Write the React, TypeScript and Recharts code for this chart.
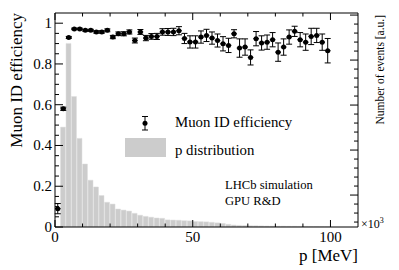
import React from 'react';
import { ComposedChart, Bar, Scatter, ErrorBar, XAxis, YAxis } from 'recharts';

const FONT = '"Liberation Serif", "DejaVu Serif", serif';

// muon ID efficiency per 2 MeV bin (bin centre in MeV)
const effP = [1, 3, 5, 7, 9, 11, 13, 15, 17, 19, 21, 23, 25, 27, 29, 31, 33, 35, 37, 39, 41, 43, 45, 47, 49,
  51, 53, 55, 57, 59, 61, 63, 65, 67, 69, 71, 73, 75, 77, 79, 81, 83, 85, 87, 89, 91, 93, 95, 97, 99];
const effValue = [0.09, 0.58, 0.93, 0.972, 0.972, 0.965, 0.965, 0.957, 0.957, 0.965, 0.932, 0.948, 0.948, 0.957,
  0.915, 0.957, 0.927, 0.935, 0.935, 0.957, 0.957, 0.957, 0.963, 0.925, 0.908, 0.908, 0.932, 0.94, 0.927, 0.915,
  0.899, 0.891, 0.948, 0.878, 0.883, 0.832, 0.924, 0.903, 0.907, 0.919, 0.858, 0.883, 0.932, 0.96, 0.919, 0.907,
  0.935, 0.94, 0.907, 0.865];
const effError = [0.025, 0.008, 0.005, 0.004, 0.004, 0.005, 0.005, 0.006, 0.006, 0.007, 0.008, 0.009, 0.01, 0.01,
  0.012, 0.012, 0.013, 0.014, 0.015, 0.016, 0.017, 0.018, 0.02, 0.025, 0.03, 0.03, 0.03, 0.03, 0.03, 0.032,
  0.035, 0.035, 0.02, 0.045, 0.04, 0.037, 0.035, 0.035, 0.035, 0.035, 0.045, 0.04, 0.035, 0.025, 0.035, 0.04,
  0.04, 0.035, 0.04, 0.06];

// p distribution, 2 MeV bins, events x10^3
const histP = [3, 5, 7, 9, 11, 13, 15, 17, 19, 21, 23, 25, 27, 29, 31, 33, 35, 37, 39, 41, 43, 45, 47, 49,
  51, 53, 55, 57, 59, 61, 63, 65, 67, 69, 71, 73, 75, 77, 79, 81, 83, 85, 87, 89, 91, 93, 95, 97, 99];
const histCount = [11.1, 20.4, 14.5, 9.85, 7.0, 5.2, 4.45, 3.5, 2.75, 2.55, 2.0, 1.88, 1.77, 1.52, 1.31, 1.18,
  1.09, 1.0, 0.97, 0.79, 0.77, 0.75, 0.7, 0.68, 0.61, 0.59, 0.57, 0.52, 0.46, 0.4, 0.3, 0.22, 0.18, 0.16, 0.14,
  0.13, 0.12, 0.11, 0.1, 0.09, 0.09, 0.08, 0.08, 0.07, 0.07, 0.06, 0.06, 0.05, 0.05];

const xTicks = [0, 10, 20, 30, 40, 50, 60, 70, 80, 90, 100];
const xMajor = [0, 50, 100];
const yTicks = [0, 0.05, 0.1, 0.15, 0.2, 0.25, 0.3, 0.35, 0.4, 0.45, 0.5, 0.55, 0.6, 0.65, 0.7, 0.75, 0.8,
  0.85, 0.9, 0.95, 1];
const yLabels: Record<string, string> = { '0': '0', '0.2': '0.2', '0.4': '0.4', '0.6': '0.6', '0.8': '0.8', '1': '1' };
const rightTicks = [0.55, 1.55, 2.55, 3.55, 4.55, 5.55, 6.55, 7.55, 8.55, 9.55, 10.55, 11.55, 12.55, 13.55,
  14.55, 15.55, 16.55, 17.55, 18.55, 19.55, 20.55, 21.55, 22.55, 23.55];
const rightMajor = [3.55, 8.55, 13.55, 18.55, 23.55];

const effData = effP.map((p, i) => ({ p, eff: effValue[i], err: effError[i] }));
const histData = histP.map((p, i) => ({ p, count: histCount[i] }));

const BottomTick = (props: any) => {
  const { x, y, payload } = props;
  const major = xMajor.includes(payload.value);
  return (
    <g>
      <line x1={x} x2={x} y1={y} y2={y - (major ? 7 : 3.5)} stroke="#000" />
      {major && (
        <text x={x} y={y + 15} textAnchor="middle" fontSize={15} fontFamily={FONT} fill="#000">
          {payload.value}
        </text>
      )}
    </g>
  );
};

const TopTick = (props: any) => {
  const { x, y, payload } = props;
  const major = xMajor.includes(payload.value);
  return <line x1={x} x2={x} y1={y} y2={y + (major ? 7 : 3.5)} stroke="#000" />;
};

const LeftTick = (props: any) => {
  const { x, y, payload } = props;
  const label = yLabels[String(payload.value)];
  return (
    <g>
      <line x1={x} x2={x + (label ? 8 : 4)} y1={y} y2={y} stroke="#000" />
      {label && (
        <text x={x - 3} y={y + 5} textAnchor="end" fontSize={15} fontFamily={FONT} fill="#000">
          {label}
        </text>
      )}
    </g>
  );
};

const RightTick = (props: any) => {
  const { x, y, payload } = props;
  const major = rightMajor.includes(payload.value);
  return <line x1={x} x2={x - (major ? 8 : 4)} y1={y} y2={y} stroke="#000" />;
};

const EffMarker = (props: any) => {
  const { cx, cy } = props;
  return (
    <g>
      <line x1={cx - 2.8} x2={cx + 2.8} y1={cy} y2={cy} stroke="#000" strokeWidth={1.2} />
      <circle cx={cx} cy={cy} r={2.5} fill="#000" />
    </g>
  );
};

export default function App() {
  return (
    <div style={{ position: 'absolute', left: 0, top: 0, width: 399, height: 270, background: '#fff' }}>
      <ComposedChart width={399} height={270} data={histData} margin={{ top: 0, right: 0, bottom: 0, left: 0 }}>
        <XAxis xAxisId="bottom" dataKey="p" type="number" domain={[0, 110]} allowDataOverflow
          ticks={xTicks} interval={0} tick={<BottomTick />} tickLine={false} tickSize={0} tickMargin={0}
          height={43} axisLine={{ stroke: '#000' }} />
        <XAxis xAxisId="top" orientation="top" dataKey="p" type="number" domain={[0, 110]} allowDataOverflow
          ticks={xTicks} interval={0} tick={<TopTick />} tickLine={false} tickSize={0} tickMargin={0}
          height={13} axisLine={{ stroke: '#000' }} />
        <YAxis yAxisId="left" type="number" domain={[0, 1.05]} allowDataOverflow ticks={yTicks} interval={0}
          tick={<LeftTick />} tickLine={false} tickSize={0} tickMargin={0} width={55} axisLine={{ stroke: '#000' }} />
        <YAxis yAxisId="right" orientation="right" type="number" domain={[0, 23.78]} allowDataOverflow
          ticks={rightTicks} interval={0} tick={<RightTick />} tickLine={false} tickSize={0} tickMargin={0}
          width={41} axisLine={{ stroke: '#000' }} />
        <Bar xAxisId="bottom" yAxisId="right" dataKey="count" fill="#cccccc" stroke="#dedede" strokeWidth={0.5}
          barSize={5.51} isAnimationActive={false} />
        <Scatter xAxisId="bottom" yAxisId="left" data={effData} dataKey="eff" shape={<EffMarker />}
          isAnimationActive={false}>
          <ErrorBar dataKey="err" direction="y" width={3} stroke="#000" strokeWidth={1} isAnimationActive={false} />
        </Scatter>
      </ComposedChart>
      <svg width={399} height={270} style={{ position: 'absolute', left: 0, top: 0, pointerEvents: 'none' }}
        fontFamily={FONT} fill="#000">
        <text transform="translate(22,13) rotate(-90)" textAnchor="end" fontSize={17}>Muon ID efficiency</text>
        <text transform="translate(384,15) rotate(-90)" textAnchor="end" fontSize={11.5}>Number of events [a.u.]</text>
        <text x={358} y={261} textAnchor="end" fontSize={17}>p [MeV]</text>
        <text x={361} y={228} fontSize={12}>×10<tspan dy={-5} fontSize={8}>3</tspan></text>
        <line x1={145} x2={145} y1={116.5} y2={130} stroke="#000" />
        <line x1={142} x2={148} y1={116.5} y2={116.5} stroke="#000" />
        <line x1={142} x2={148} y1={130} y2={130} stroke="#000" />
        <circle cx={145} cy={123.3} r={2.5} />
        <text x={175} y={127} fontSize={14.8}>Muon ID efficiency</text>
        <rect x={125} y={138} width={41} height={19} fill="#cccccc" />
        <text x={175} y={155} fontSize={14.8}>p distribution</text>
        <text x={225} y={188.5} fontSize={12.6}>LHCb simulation</text>
        <text x={225} y={205} fontSize={12.6}>GPU R&amp;D</text>
      </svg>
    </div>
  );
}
